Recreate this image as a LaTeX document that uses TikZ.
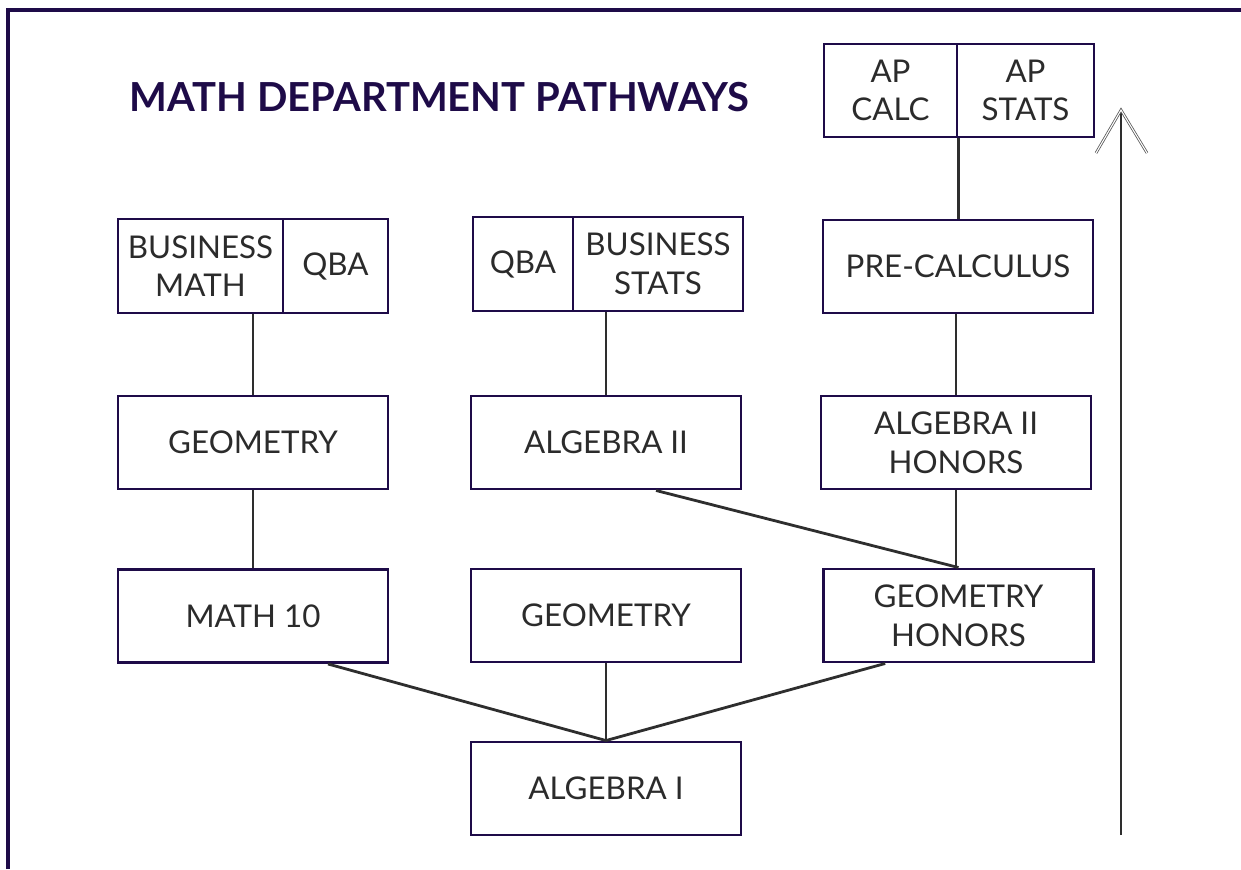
\documentclass[tikz,border=0pt]{standalone}
\usepackage{fontspec}
\setmainfont{Lato}
\definecolor{frame}{HTML}{1E0B48}
\definecolor{txt}{HTML}{2B2B2B}
\definecolor{conn}{HTML}{2E2E2E}
\begin{document}
\begin{tikzpicture}[x=0.75pt,y=-0.75pt,
  course/.style={draw=frame,line width=2.2pt,fill=white,text=txt,align=center,
    minimum width=202.5pt,minimum height=69.75pt,inner sep=0pt,
    font=\fontsize{23.5}{29}\selectfont},
  link/.style={draw=conn,line width=2.1pt},
  head/.style={draw=gray!70!black,double=white,double distance=0.8pt,line width=0.6pt}]
\useasboundingbox (0,0) rectangle (1241,869);
\draw[frame,line width=2.6pt] (8,869) -- (8,10) -- (1241,10);
\node[text=frame,anchor=west,font=\fontsize{30}{35}\selectfont\bfseries] (title) at (125,97) {MATH DEPARTMENT PATHWAYS};
% top row
\node[course,minimum width=99.75pt] (apcalc) at (890.5,90.5) {AP\\CALC};
\node[course,minimum width=102.75pt] (apstats) at (1025.5,90.5) {AP\\STATS};
\node[course,minimum width=123.75pt,minimum height=70.5pt] (bmath) at (200.5,266) {BUSINESS\\MATH};
\node[course,minimum width=78.75pt,minimum height=70.5pt] (qbaone) at (335.5,266) {QBA};
\node[course,minimum width=75pt,minimum height=70.5pt] (qbatwo) at (523,264) {QBA};
\node[course,minimum width=127.5pt,minimum height=70.5pt] (bstats) at (658,264) {BUSINESS\\STATS};
\node[course] (precalc) at (958,266.5) {PRE-CALCULUS};
% middle row
\node[course] (geomone) at (253,442.5) {GEOMETRY};
\node[course] (algtwo) at (606,442.5) {ALGEBRA II};
\node[course] (algtwoh) at (956,442.5) {ALGEBRA II\\HONORS};
% lower row
\node[course] (mathten) at (253,616) {MATH 10};
\node[course] (geomtwo) at (606,615.5) {GEOMETRY};
\node[course] (geomh) at (958.5,615.5) {GEOMETRY\\HONORS};
% bottom
\node[course] (algone) at (606,788.5) {ALGEBRA I};
% connectors
\draw[link] (geomone.north) -- (geomone.north |- bmath.south);
\draw[link] (geomone.south) -- (mathten.north);
\draw[link] (algtwo.north) -- (algtwo.north |- bstats.south);
\draw[link] (apcalc.south east) -- (apcalc.south east |- precalc.north);
\draw[link] (algtwoh.north) -- (algtwoh.north |- precalc.south);
\draw[link] (algtwoh.south) -- (algtwoh.south |- geomh.north);
\draw[link] ([xshift=37.5pt]algtwo.south) -- (geomh.north);
\draw[link] (geomtwo.south) -- (algone.north);
\draw[link] ([xshift=56.25pt]mathten.south) -- (algone.north);
\draw[link] ([xshift=-55pt]geomh.south) -- (algone.north);
% arrow
\coordinate (abase) at (1121,835);
\coordinate (atip) at (1121,110);
\coordinate (awl) at (1096,153);
\coordinate (awr) at (1147,153);
\draw[conn,line width=2.1pt] (abase) -- (atip);
\draw[head] (awl) -- (atip) -- (awr);
\end{tikzpicture}
\end{document}
